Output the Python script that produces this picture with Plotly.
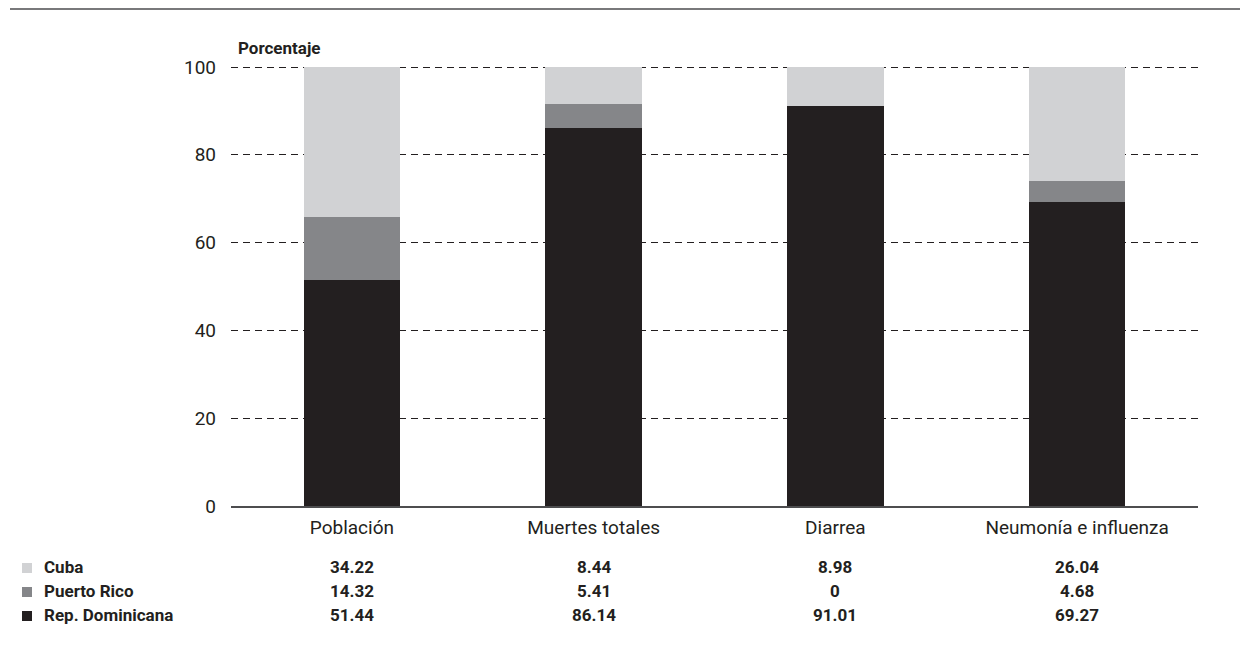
import plotly.graph_objects as go

categories = ["Población", "Muertes totales", "Diarrea", "Neumonía e influenza"]
series_names = ["Rep. Dominicana", "Puerto Rico", "Cuba"]
rep_dom = [51.44, 86.14, 91.01, 69.27]
puerto_rico = [14.32, 5.41, 0, 4.68]
cuba = [34.22, 8.44, 8.98, 26.04]
y_ticks = [0, 20, 40, 60, 80, 100]

colors = {"Rep. Dominicana": "#231f20", "Puerto Rico": "#858689", "Cuba": "#d1d2d4"}
values = {"Rep. Dominicana": rep_dom, "Puerto Rico": puerto_rico, "Cuba": cuba}

FONT = "Roboto"
OFF = 8  # page body margin
W, H = 1248 - OFF, 650 - OFF
L, R, T, B = 231 - OFF, 50, 67 - OFF, 144
pw, ph = W - L - R, H - T - B

def px(x):
    return (x - OFF - L) / pw

def py(y):
    return (H - B - (y - OFF)) / ph

fig = go.Figure()
for name in series_names:
    fig.add_trace(go.Bar(x=categories, y=values[name], name=name,
                         marker=dict(color=colors[name], line=dict(width=0)),
                         width=0.4, showlegend=False))

row_order = ["Cuba", "Puerto Rico", "Rep. Dominicana"]
row_y = [567, 591, 615]
annotations = []
shapes = []
for name, ry in zip(row_order, row_y):
    annotations.append(dict(x=px(42), y=py(ry), xref="paper", yref="paper",
                            text="<b>" + name + "</b>", showarrow=False,
                            xanchor="left", yanchor="middle",
                            font=dict(family=FONT, size=17, color="#231f20")))
    shapes.append(dict(type="rect", xref="paper", yref="paper",
                       x0=px(22), x1=px(32), y0=py(ry + 6), y1=py(ry - 4),
                       fillcolor=colors[name], line=dict(width=0)))
    for c, v in zip(categories, values[name]):
        txt = "0" if v == 0 else f"{v:.2f}"
        annotations.append(dict(x=c, y=py(ry), xref="x", yref="paper",
                                text="<b>" + txt + "</b>", showarrow=False,
                                xanchor="center", yanchor="middle",
                                font=dict(family=FONT, size=17, color="#231f20")))

annotations.append(dict(x=px(236), y=py(48), xref="paper", yref="paper",
                        text="<b>Porcentaje</b>", showarrow=False,
                        xanchor="left", yanchor="middle",
                        font=dict(family=FONT, size=17, color="#231f20")))

shapes.append(dict(type="line", xref="paper", yref="paper",
                   x0=px(10), x1=px(1248), y0=py(9), y1=py(9),
                   line=dict(color="#4d4d4f", width=1.5)))
# top gridline (at the range edge, not drawn by the axis itself), pixel-aligned
shapes.append(dict(type="line", xref="paper", yref="paper", layer="below",
                   x0=0, x1=1, y0=1 - 0.5 / ph, y1=1 - 0.5 / ph,
                   line=dict(color="#231f20", width=1, dash="7px,5px")))

fig.update_layout(
    width=W, height=H,
    margin=dict(l=L, r=R, t=T, b=B),
    paper_bgcolor="white", plot_bgcolor="white",
    barmode="stack", bargap=0.6,
    font=dict(family=FONT, size=19, color="#231f20"),
    xaxis=dict(showgrid=False, showline=True, linecolor="#4d4d4f", linewidth=1.5,
               ticks="", ticklabelstandoff=3,
               tickfont=dict(family=FONT, size=19, color="#231f20")),
    yaxis=dict(range=[0, 100], tickvals=y_ticks, showgrid=True,
               gridcolor="#231f20", griddash="7px,5px", gridwidth=1,
               zeroline=False, showline=False, ticks="",
               ticklabelstandoff=14,
               tickfont=dict(family=FONT, size=19, color="#231f20")),
    annotations=annotations, shapes=shapes,
)

fig.write_html("out.html")
